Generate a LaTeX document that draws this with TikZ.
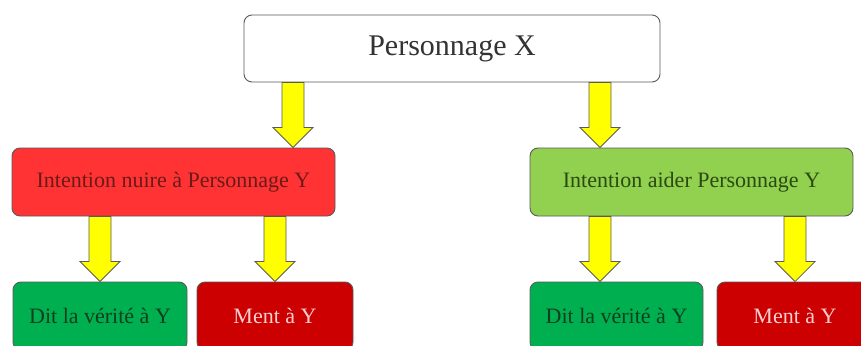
\documentclass[tikz,border=0pt]{standalone}
\usepackage{fontspec}
\setmainfont{Liberation Serif}
\usetikzlibrary{calc}
\definecolor{redbox}{HTML}{FF3333}
\definecolor{redtext}{HTML}{6B1A1A}
\definecolor{lgreen}{HTML}{92D050}
\definecolor{lgtext}{HTML}{2A4A12}
\definecolor{dgreen}{HTML}{00B050}
\definecolor{dgtext}{HTML}{0F3F1F}
\definecolor{dred}{HTML}{CC0000}
\definecolor{drtext}{HTML}{F8D0D0}
\definecolor{edge}{HTML}{5A5A5A}
\definecolor{yel}{HTML}{FFFF00}
\tikzset{
  box/.style={draw=edge, line width=0.9pt, rounded corners=8pt, inner sep=0pt, align=center},
  yarr/.style={draw=edge, fill=yel, line width=0.8pt, line join=miter},
}
\newcommand{\yarrow}[3]{%
  \draw[yarr] let \p1=(#2.south), \p2=(#3.north) in
    (#1pt-11pt,\y1) -- (#1pt+11pt,\y1) -- (#1pt+11pt,\y2+20pt) -- (#1pt+20pt,\y2+20pt)
    -- (#1pt,\y2) -- (#1pt-20pt,\y2+20pt) -- (#1pt-11pt,\y2+20pt) -- cycle;}
\begin{document}
\begin{tikzpicture}[x=1pt,y=1pt]
\useasboundingbox (0,0) rectangle (861,-345);
\clip (0,0) rectangle (861,-345);
\fill[white] (0,0) rectangle (861,-345);
\node[box, fill=white, minimum width=416pt, minimum height=67pt, font=\fontsize{30}{36}\selectfont, text=black!80] (px) at (452,-48.5) {Personnage X};
\node[box, fill=redbox, minimum width=323pt, minimum height=68pt, font=\fontsize{22}{26}\selectfont, text=redtext] (nuire) at (173.5,-182) {Intention nuire à Personnage Y};
\node[box, fill=lgreen, minimum width=323pt, minimum height=68pt, font=\fontsize{22}{26}\selectfont, text=lgtext] (aider) at (691.5,-182) {Intention aider Personnage Y};
\node[box, fill=dgreen, minimum width=174pt, minimum height=68pt, font=\fontsize{22}{26}\selectfont, text=dgtext] (dit1) at (100,-316) {Dit la vérité à Y};
\node[box, fill=dred, minimum width=156pt, minimum height=68pt, font=\fontsize{22}{26}\selectfont, text=drtext] (ment1) at (275,-316) {Ment à Y};
\node[box, fill=dgreen, minimum width=173pt, minimum height=68pt, font=\fontsize{22}{26}\selectfont, text=dgtext] (dit2) at (616.5,-316) {Dit la vérité à Y};
\node[box, fill=dred, minimum width=156pt, minimum height=68pt, font=\fontsize{22}{26}\selectfont, text=drtext] (ment2) at (795,-316) {Ment à Y};
\yarrow{293}{px}{nuire}
\yarrow{600}{px}{aider}
\yarrow{100}{nuire}{dit1}
\yarrow{275}{nuire}{ment1}
\yarrow{600}{aider}{dit2}
\yarrow{795}{aider}{ment2}
\end{tikzpicture}
\end{document}
